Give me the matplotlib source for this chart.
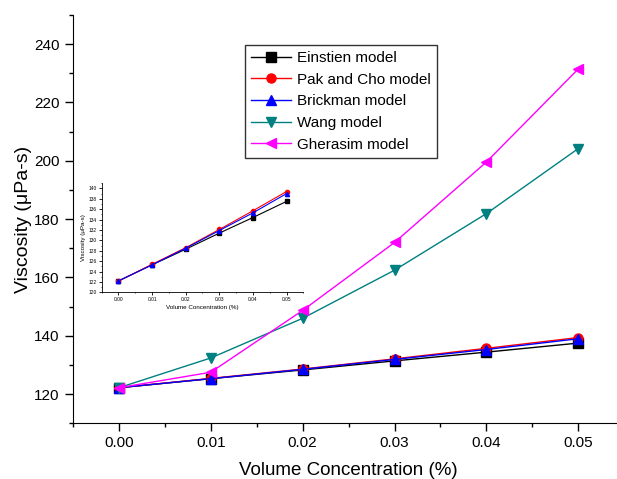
import matplotlib
matplotlib.use('Agg')
import matplotlib.pyplot as plt
from matplotlib.ticker import MultipleLocator

plt.rcParams['font.family'] = ['Liberation Sans', 'DejaVu Sans']

conc = [0.00, 0.01, 0.02, 0.03, 0.04, 0.05]
einstien = [122.2, 125.3, 128.3, 131.4, 134.4, 137.5]
pak_cho = [122.2, 125.4, 128.6, 132.1, 135.7, 139.4]
brickman = [122.2, 125.3, 128.5, 131.9, 135.3, 139.0]
wang = [122.2, 132.4, 146.0, 162.5, 181.9, 204.2]
gherasim = [122.2, 127.5, 148.7, 172.0, 199.6, 231.5]

series = [
    ('Einstien model', einstien, 'black', 's'),
    ('Pak and Cho model', pak_cho, 'red', 'o'),
    ('Brickman model', brickman, 'blue', '^'),
    ('Wang model', wang, '#008080', 'v'),
    ('Gherasim model', gherasim, '#FF00FF', '<'),
]

fig = plt.figure(figsize=(6.17, 4.79), dpi=100)
ax = fig.add_axes([0.1183, 0.1163, 0.8934, 0.8524])

for label, vals, col, mk in series:
    ax.plot(conc, vals, color=col, marker=mk, markersize=6.5, linewidth=1, label=label)

ax.set_xlim(-0.005, 0.055)
ax.set_ylim(110, 250)
ax.xaxis.set_minor_locator(MultipleLocator(0.005))
ax.yaxis.set_minor_locator(MultipleLocator(10))
ax.set_xticks([0.0, 0.01, 0.02, 0.03, 0.04, 0.05])
ax.set_xticklabels(['0.00', '0.01', '0.02', '0.03', '0.04', '0.05'])
ax.set_yticks([120, 140, 160, 180, 200, 220, 240])
ax.spines['top'].set_visible(False)
ax.spines['right'].set_visible(False)
ax.tick_params(which='major', direction='out', length=6, width=1, labelsize=11)
ax.tick_params(which='minor', direction='out', length=3, width=1)
ax.set_xlabel('Volume Concentration (%)', fontsize=13.5, labelpad=8)
ax.set_ylabel('Viscosity (μPa-s)', fontsize=14, labelpad=2)

leg = ax.legend(loc='upper left', bbox_to_anchor=(0.397, 0.906), bbox_transform=fig.transFigure,
                fontsize=11, frameon=True, fancybox=False, handlelength=2.6,
                labelspacing=0.5, borderpad=0.4, handletextpad=0.4, borderaxespad=0)
leg.get_frame().set_edgecolor('black')
leg.get_frame().set_linewidth(1)

# inset
ins = fig.add_axes([0.1648, 0.3896, 0.3268, 0.2279])
for label, vals, col, mk in series[:3]:
    ins.plot(conc, vals, color=col, marker=mk, markersize=3, linewidth=0.8)
ins.set_xlim(-0.005, 0.055)
ins.set_ylim(120, 141)
ins.set_xticks([0.0, 0.01, 0.02, 0.03, 0.04, 0.05])
ins.set_xticklabels(['0.00', '0.01', '0.02', '0.03', '0.04', '0.05'])
ins.xaxis.set_minor_locator(MultipleLocator(0.005))
ins.set_yticks(range(120, 141, 2))
ins.yaxis.set_minor_locator(MultipleLocator(1))
ins.spines['top'].set_visible(False)
ins.spines['right'].set_visible(False)
for s in ('left', 'bottom'):
    ins.spines[s].set_linewidth(0.6)
ins.tick_params(which='major', direction='out', length=2, width=0.6, labelsize=3.5, pad=1.5)
ins.tick_params(which='minor', direction='out', length=1, width=0.5)
ins.set_xlabel('Volume Concentration (%)', fontsize=4.5, labelpad=2)
ins.set_ylabel('Viscosity (μPa-s)', fontsize=4.5, labelpad=2)

fig.savefig('out.png', dpi=100)
